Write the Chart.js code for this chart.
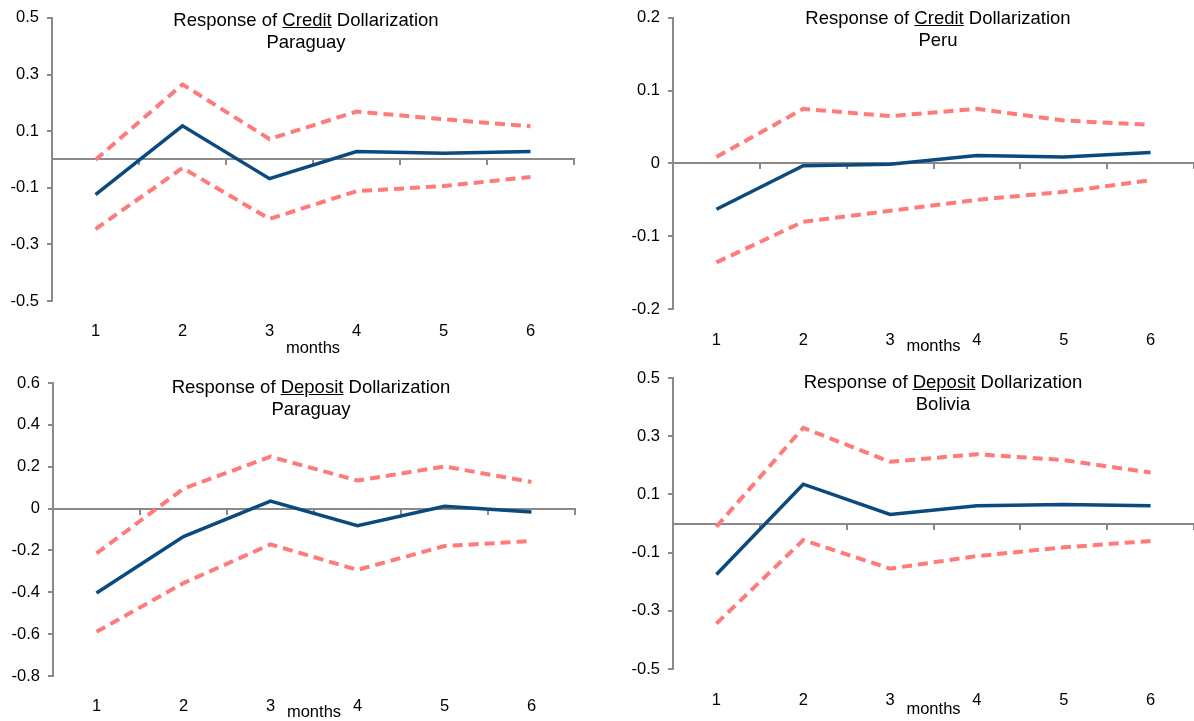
<!DOCTYPE html>
<html>
<head>
<meta charset="utf-8">
<script src="https://cdn.jsdelivr.net/npm/chart.js@4/dist/chart.umd.min.js"></script>
<style>
  body { margin: 0; background: #fff; width: 1194px; height: 721px; overflow: hidden; position: relative; }
  .panel { position: absolute; }
  .ttl { position: absolute; width: 420px; text-align: center; font: 18.5px "Liberation Sans", Arial, sans-serif; line-height: 22px; color: #000; }
</style>
</head>
<body>
<div class="panel" style="left:0;top:0;width:597px;height:360px"><canvas id="c1"></canvas></div>
<div class="panel" style="left:597px;top:0;width:597px;height:360px"><canvas id="c2"></canvas></div>
<div class="panel" style="left:0;top:360px;width:597px;height:361px"><canvas id="c3"></canvas></div>
<div class="panel" style="left:597px;top:360px;width:597px;height:361px"><canvas id="c4"></canvas></div>

<div class="ttl" style="left:96px;top:9px">Response of <u>Credit</u> Dollarization<br>Paraguay</div>
<div class="ttl" style="left:728px;top:7px">Response of <u>Credit</u> Dollarization<br>Peru</div>
<div class="ttl" style="left:101px;top:376px">Response of <u>Deposit</u> Dollarization<br>Paraguay</div>
<div class="ttl" style="left:733px;top:371px">Response of <u>Deposit</u> Dollarization<br>Bolivia</div>

<script>
var months = ["1", "2", "3", "4", "5", "6"];

// credit dollarization, Paraguay
var creditPyResp  = [-0.124, 0.119, -0.068, 0.028, 0.022, 0.028];
var creditPyUpper = [-0.001, 0.265, 0.072, 0.169, 0.142, 0.117];
var creditPyLower = [-0.246, -0.030, -0.210, -0.112, -0.094, -0.062];
var creditPyTicks = [-0.5, -0.3, -0.1, 0.1, 0.3, 0.5];

// credit dollarization, Peru
var creditPeResp  = [-0.063, -0.003, -0.001, 0.011, 0.009, 0.015];
var creditPeUpper = [0.009, 0.075, 0.065, 0.075, 0.059, 0.053];
var creditPeLower = [-0.136, -0.080, -0.065, -0.050, -0.039, -0.023];
var creditPeTicks = [-0.2, -0.1, 0, 0.1, 0.2];

// deposit dollarization, Paraguay
var depositPyResp  = [-0.403, -0.134, 0.036, -0.082, 0.011, -0.016];
var depositPyUpper = [-0.214, 0.095, 0.248, 0.134, 0.201, 0.127];
var depositPyLower = [-0.589, -0.356, -0.171, -0.293, -0.179, -0.155];
var depositPyTicks = [-0.8, -0.6, -0.4, -0.2, 0, 0.2, 0.4, 0.6];

// deposit dollarization, Bolivia
var depositBoResp  = [-0.175, 0.135, 0.031, 0.061, 0.065, 0.061];
var depositBoUpper = [-0.011, 0.329, 0.212, 0.238, 0.218, 0.175];
var depositBoLower = [-0.344, -0.057, -0.155, -0.112, -0.082, -0.060];
var depositBoTicks = [-0.5, -0.3, -0.1, 0.1, 0.3, 0.5];

var FONT = "'Liberation Sans', Arial, sans-serif";
var AXIS = "#8a8a8a";
var BLUE = "#0b4a7e";
var RED = "#ff7b7b";

var makePanel = function(id, resp, upper, lower, ticks, lay) {
  var band = function(vals) {
    return {
      data: vals, xAxisID: "x", borderColor: RED, borderWidth: 4,
      borderDash: [10, 6], pointRadius: 0, tension: 0, fill: false
    };
  };

  new Chart(document.getElementById(id), {
    type: "line",
    data: {
      labels: months,
      datasets: [
        band(upper),
        band(lower),
        { data: resp, xAxisID: "x", borderColor: BLUE, borderWidth: 3.5, pointRadius: 0, tension: 0, fill: false }
      ]
    },
    options: {
      responsive: true,
      maintainAspectRatio: false,
      animation: false,
      events: [],
      layout: { padding: { top: lay.top, right: lay.right, bottom: 0, left: 0 } },
      plugins: { legend: { display: false }, tooltip: { enabled: false } },
      scales: {
        x: {
          type: "category",
          position: "bottom",
          offset: true,
          border: { display: false },
          grid: { display: false },
          ticks: { color: "#000", font: { family: FONT, size: 16.5 }, padding: lay.tickPad, maxRotation: 0 },
          title: { display: true, text: "months", color: "#000", font: { family: FONT, size: 16.5, lineHeight: 1 }, padding: { top: 0, bottom: lay.titlePad } },
          afterFit: function(s) { s.height = lay.xHeight; }
        },
        // axis line through zero with the small tick marks between months
        x2: {
          type: "category",
          position: { y: 0 },
          offset: true,
          border: { color: AXIS, width: 2 },
          grid: { offset: true, drawOnChartArea: false, drawTicks: true, tickLength: 5, color: AXIS, lineWidth: 2 },
          ticks: { display: false }
        },
        y: {
          type: "linear",
          min: ticks[0],
          max: ticks[ticks.length - 1],
          border: { color: AXIS, width: 2 },
          grid: { drawOnChartArea: false, drawTicks: true, tickLength: 5, color: AXIS, lineWidth: 2 },
          ticks: {
            color: "#000", font: { family: FONT, size: 16.5 }, padding: 8,
            callback: function(v) { return String(v); }
          },
          afterBuildTicks: function(s) {
            s.ticks = ticks.map(function(v) { return { value: v }; });
          },
          afterFit: function(s) { s.width = lay.left; }
        }
      }
    }
  });
};

makePanel("c1", creditPyResp, creditPyUpper, creditPyLower, creditPyTicks,
  { left: 52, right: 23, top: 15, xHeight: 59, tickPad: 13, titlePad: 3 });
makePanel("c2", creditPeResp, creditPeUpper, creditPeLower, creditPeTicks,
  { left: 76, right: 0, top: 14, xHeight: 51, tickPad: 14, titlePad: 5 });
makePanel("c3", depositPyResp, depositPyUpper, depositPyLower, depositPyTicks,
  { left: 53, right: 22, top: 23, xHeight: 45, tickPad: 13, titlePad: 0 });
makePanel("c4", depositBoResp, depositBoUpper, depositBoLower, depositBoTicks,
  { left: 76, right: 0, top: 18, xHeight: 52, tickPad: 14, titlePad: 3 });
</script>
</body>
</html>
